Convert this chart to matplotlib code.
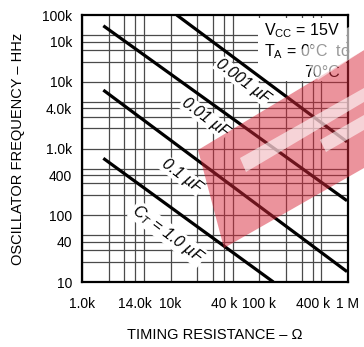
import numpy as np
import matplotlib
matplotlib.use("Agg")
import matplotlib.pyplot as plt
from matplotlib.patches import Polygon, Rectangle
from matplotlib.transforms import Affine2D

# curves: end points (timing resistance in ohm, frequency in Hz)
cap_labels = ["0.001 µF", "0.01 µF", "0.1 µF", r"C$_{\mathregular{T}}$ = 1.0 µF"]
res_start = [11.7e3, 1.74e3, 1.74e3, 1.74e3]
res_end = [975e3, 975e3, 975e3, 144e3]
freq_start = [100e3, 69e3, 7.5e3, 713]
freq_end = [1.26e3, 165, 14.3, 10]

# tick labels as printed on the original (typos kept)
x_ticks = [1e3, 4e3, 1e4, 4e4, 1e5, 4e5, 1e6]
x_ticklabels = ["1.0k", "14.0k", "10k", "40 k", "100 k", "400 k", "1 M"]
y_ticks = [1e5, 4e4, 1e4, 4e3, 1e3, 400, 100, 40, 10]
y_ticklabels = ["100k", "10k", "10k", "4.0k", "1.0k", "400", "100", "40", "10"]

grid_mult = [1, 2, 3, 4, 5]

W, H = 364, 347
plt.rcParams["font.family"] = ["Liberation Sans", "DejaVu Sans"]

fig = plt.figure(figsize=(W / 100, H / 100), dpi=100)
ax = fig.add_axes([82 / W, (H - 282) / H, 266 / W, 267 / H])
ax.set_xscale("log")
ax.set_yscale("log")
ax.set_xlim(1e3, 1e6)
ax.set_ylim(10, 1e5)

# grid at 1,2,3,4,5 of each decade
for e in range(3, 6):
    for m in grid_mult:
        ax.axvline(m * 10 ** e, color="#4a4a4a", lw=0.9, zorder=1)
for e in range(1, 5):
    for m in grid_mult:
        ax.axhline(m * 10 ** e, color="#4a4a4a", lw=0.9, zorder=1)

for r0, r1, f0, f1 in zip(res_start, res_end, freq_start, freq_end):
    ax.plot([r0, r1], [f0, f1], color="black", lw=2.3, solid_capstyle="butt",
            zorder=4, clip_on=True)

# curve labels
label_pos = [(0.605, 0.753), (0.462, 0.618), (0.376, 0.397), (0.323, 0.180)]
for txt, (px, py) in zip(cap_labels, label_pos):
    ax.text(px, py, txt, transform=ax.transAxes, rotation=-37,
            rotation_mode="anchor", ha="center", va="center",
            fontsize=11.5, style="italic",
            bbox=dict(fc="white", ec="none", pad=0.6), zorder=3)

# conditions box
ax.add_patch(Rectangle((0.662, 0.751), 0.33, 0.238, transform=ax.transAxes,
                       fc="white", ec="none", zorder=2))
ax.text(0.684, 0.940, r"V$_{\mathregular{CC}}$ = 15V", transform=ax.transAxes,
        ha="left", va="center", fontsize=11.5, zorder=3)
ax.text(0.684, 0.861, r"T$_{\mathregular{A}}$ = 0°C  to", transform=ax.transAxes,
        ha="left", va="center", fontsize=11.5, zorder=3)
ax.text(0.970, 0.783, "70°C", transform=ax.transAxes,
        ha="right", va="center", fontsize=11.5, zorder=3)

ax.set_xticks(x_ticks)
ax.set_xticklabels(x_ticklabels)
ax.set_yticks(y_ticks)
ax.set_yticklabels(y_ticklabels)
ax.minorticks_off()
ax.tick_params(length=0, labelsize=10)
ax.tick_params(axis="x", pad=11)
ax.tick_params(axis="y", pad=7)
for s in ax.spines.values():
    s.set_linewidth(1.6)

ax.set_xlabel("TIMING RESISTANCE – Ω", fontsize=10.5, labelpad=12)
ax.set_ylabel("OSCILLATOR FREQUENCY – HHz", fontsize=10.5, labelpad=12)

# faint watermark drawn on top (pixel coordinates, origin top-left)
pix = Affine2D().scale(1 / W, -1 / H).translate(0, 1) + fig.transFigure
fig.patches.append(Polygon([(198, 150), (364, 50), (364, 168), (224, 248)],
                           closed=True, transform=pix, fc="#d8283a", ec="none",
                           alpha=0.5, zorder=10))
for poly in [
    [(240, 158), (364, 88), (364, 102), (246, 172)],
    [(300, 50), (364, 20), (364, 50), (318, 80)],
    [(320, 140), (364, 115), (364, 130), (326, 152)],
]:
    fig.patches.append(Polygon(poly, closed=True, transform=pix, fc="white",
                               ec="none", alpha=0.6, zorder=11))

fig.savefig("out.png", dpi=100)
